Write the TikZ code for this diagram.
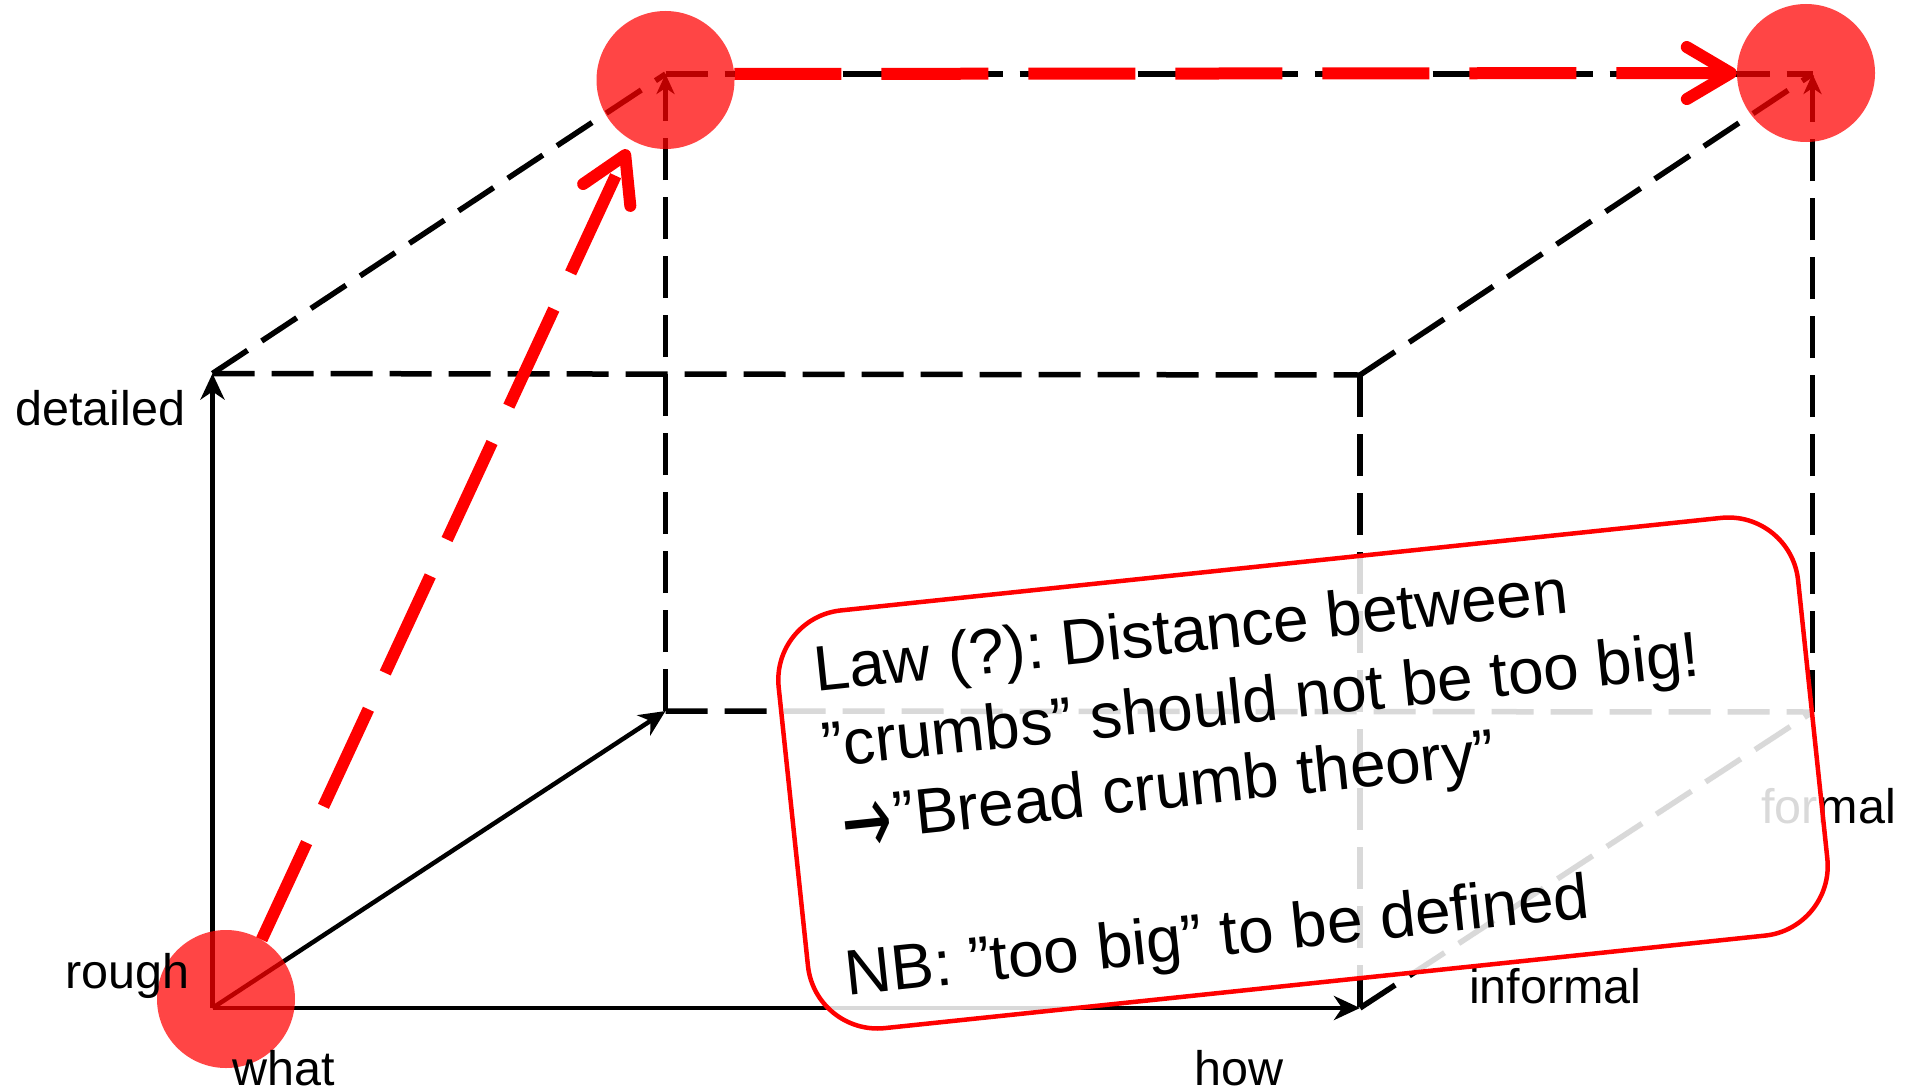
\documentclass[tikz,border=0pt]{standalone}
\usepackage{graphicx}
\usepackage{fontspec}
\setmainfont{Liberation Sans}
\newfontfamily\arrowfont{DejaVu Sans}
\usetikzlibrary{arrows.meta}
\frenchspacing
\begin{document}
\begin{tikzpicture}[x=1pt,y=-1pt,
  axis/.style={line width=4.5pt, -{Stealth[length=26pt,width=24pt,inset=8pt]}},
  edge/.style={line width=5.5pt, dash pattern=on 42pt off 17pt},
  backedge/.style={edge, -{Stealth[length=20pt,width=18pt,inset=6pt]}},
  crumb/.style={circle, fill=red, fill opacity=0.73, minimum size=138pt, inner sep=0pt},
  redpath/.style={draw=red, line width=12pt, dash pattern=on 107pt off 40pt, -{Straight Barb[length=44pt,width=52pt,round]}},
  lbl/.style={font=\fontsize{48.5}{58}\selectfont, inner sep=0pt, anchor=base west},
  notebox/.style={draw=red, line width=4.5pt, fill=white, fill opacity=0.85, rounded corners=70pt, minimum width=1025pt, minimum height=420pt, inner sep=0pt},
  notetext/.style={font=\fontsize{64}{76}\selectfont, inner sep=0pt, anchor=base west}
]
\useasboundingbox (0,0) rectangle (1905,1089);

% cube corners
\coordinate (O)   at (212.5,1008);
\coordinate (FTL) at (212.5,373.5);
\coordinate (FTR) at (1360,375);
\coordinate (FBR) at (1360,1008);
\coordinate (BBL) at (665.5,711);
\coordinate (BTL) at (665.5,74);
\coordinate (BTR) at (1812.5,74);
\coordinate (BBR) at (1812.5,712);

% dashed cube edges
\draw[edge] (FTL) -- (FTR);
\draw[edge] (FTL) -- (BTL);
\draw[edge] (FTR) -- (BTR);
\draw[edge] (FTR) -- (FBR);
\draw[edge] (BTL) -- (BTR);
\draw[backedge] (BBL) -- (BTL);
\draw[backedge] (BBR) -- (BTR);
\draw[edge] (BBL) -- (BBR);
\draw[edge] (FBR) -- (BBR);

% axes
\draw[axis] (O) -- (FTL);
\draw[axis] (O) -- (FBR);
\draw[axis] (O) -- (BBL);

% crumbs
\node[crumb] (bot) at (226,999) {};
\node[crumb] (tl)  at (665.5,80) {};
\node[crumb] (tr)  at (1806,73) {};

% red path
\draw[redpath, shorten >=10pt] (bot.59) -- (tl.241);
\draw[redpath] (tl.5) -- (tr.180);

% labels
\node[lbl] (detailed) at (15,425) {detailed};
\node[lbl] (rough)    at (65,988) {rough};
\node[lbl] (what)     at (232,1085) {what};
\node[lbl] (how)      at (1194,1085) {how};
\node[lbl] (informal) at (1469,1003) {informal};
\node[lbl] (formal)   at (1761,823) {formal};

% note
\begin{scope}[shift={(1303,773)}, rotate=6]
  \node[notebox, rotate=6] (note) at (0,0) {};
  \node[notetext, rotate=6] (t1) at (-476,-132) {Law (?): Distance between};
  \node[notetext, rotate=6] (t2) at (-476,-55.6) {”crumbs” should not be too big!};
  \node[notetext, rotate=6] (t3) at (-476,20.8) {\hspace*{12pt}\raisebox{-15pt}{\scalebox{0.6}[1]{\arrowfont\fontsize{100}{100}\selectfont →}}\hspace*{2pt}”Bread crumb theory”};
  \node[notetext, rotate=6] (t4) at (-476,173.6) {NB: ”too big” to be defined};
\end{scope}
\end{tikzpicture}
\end{document}
